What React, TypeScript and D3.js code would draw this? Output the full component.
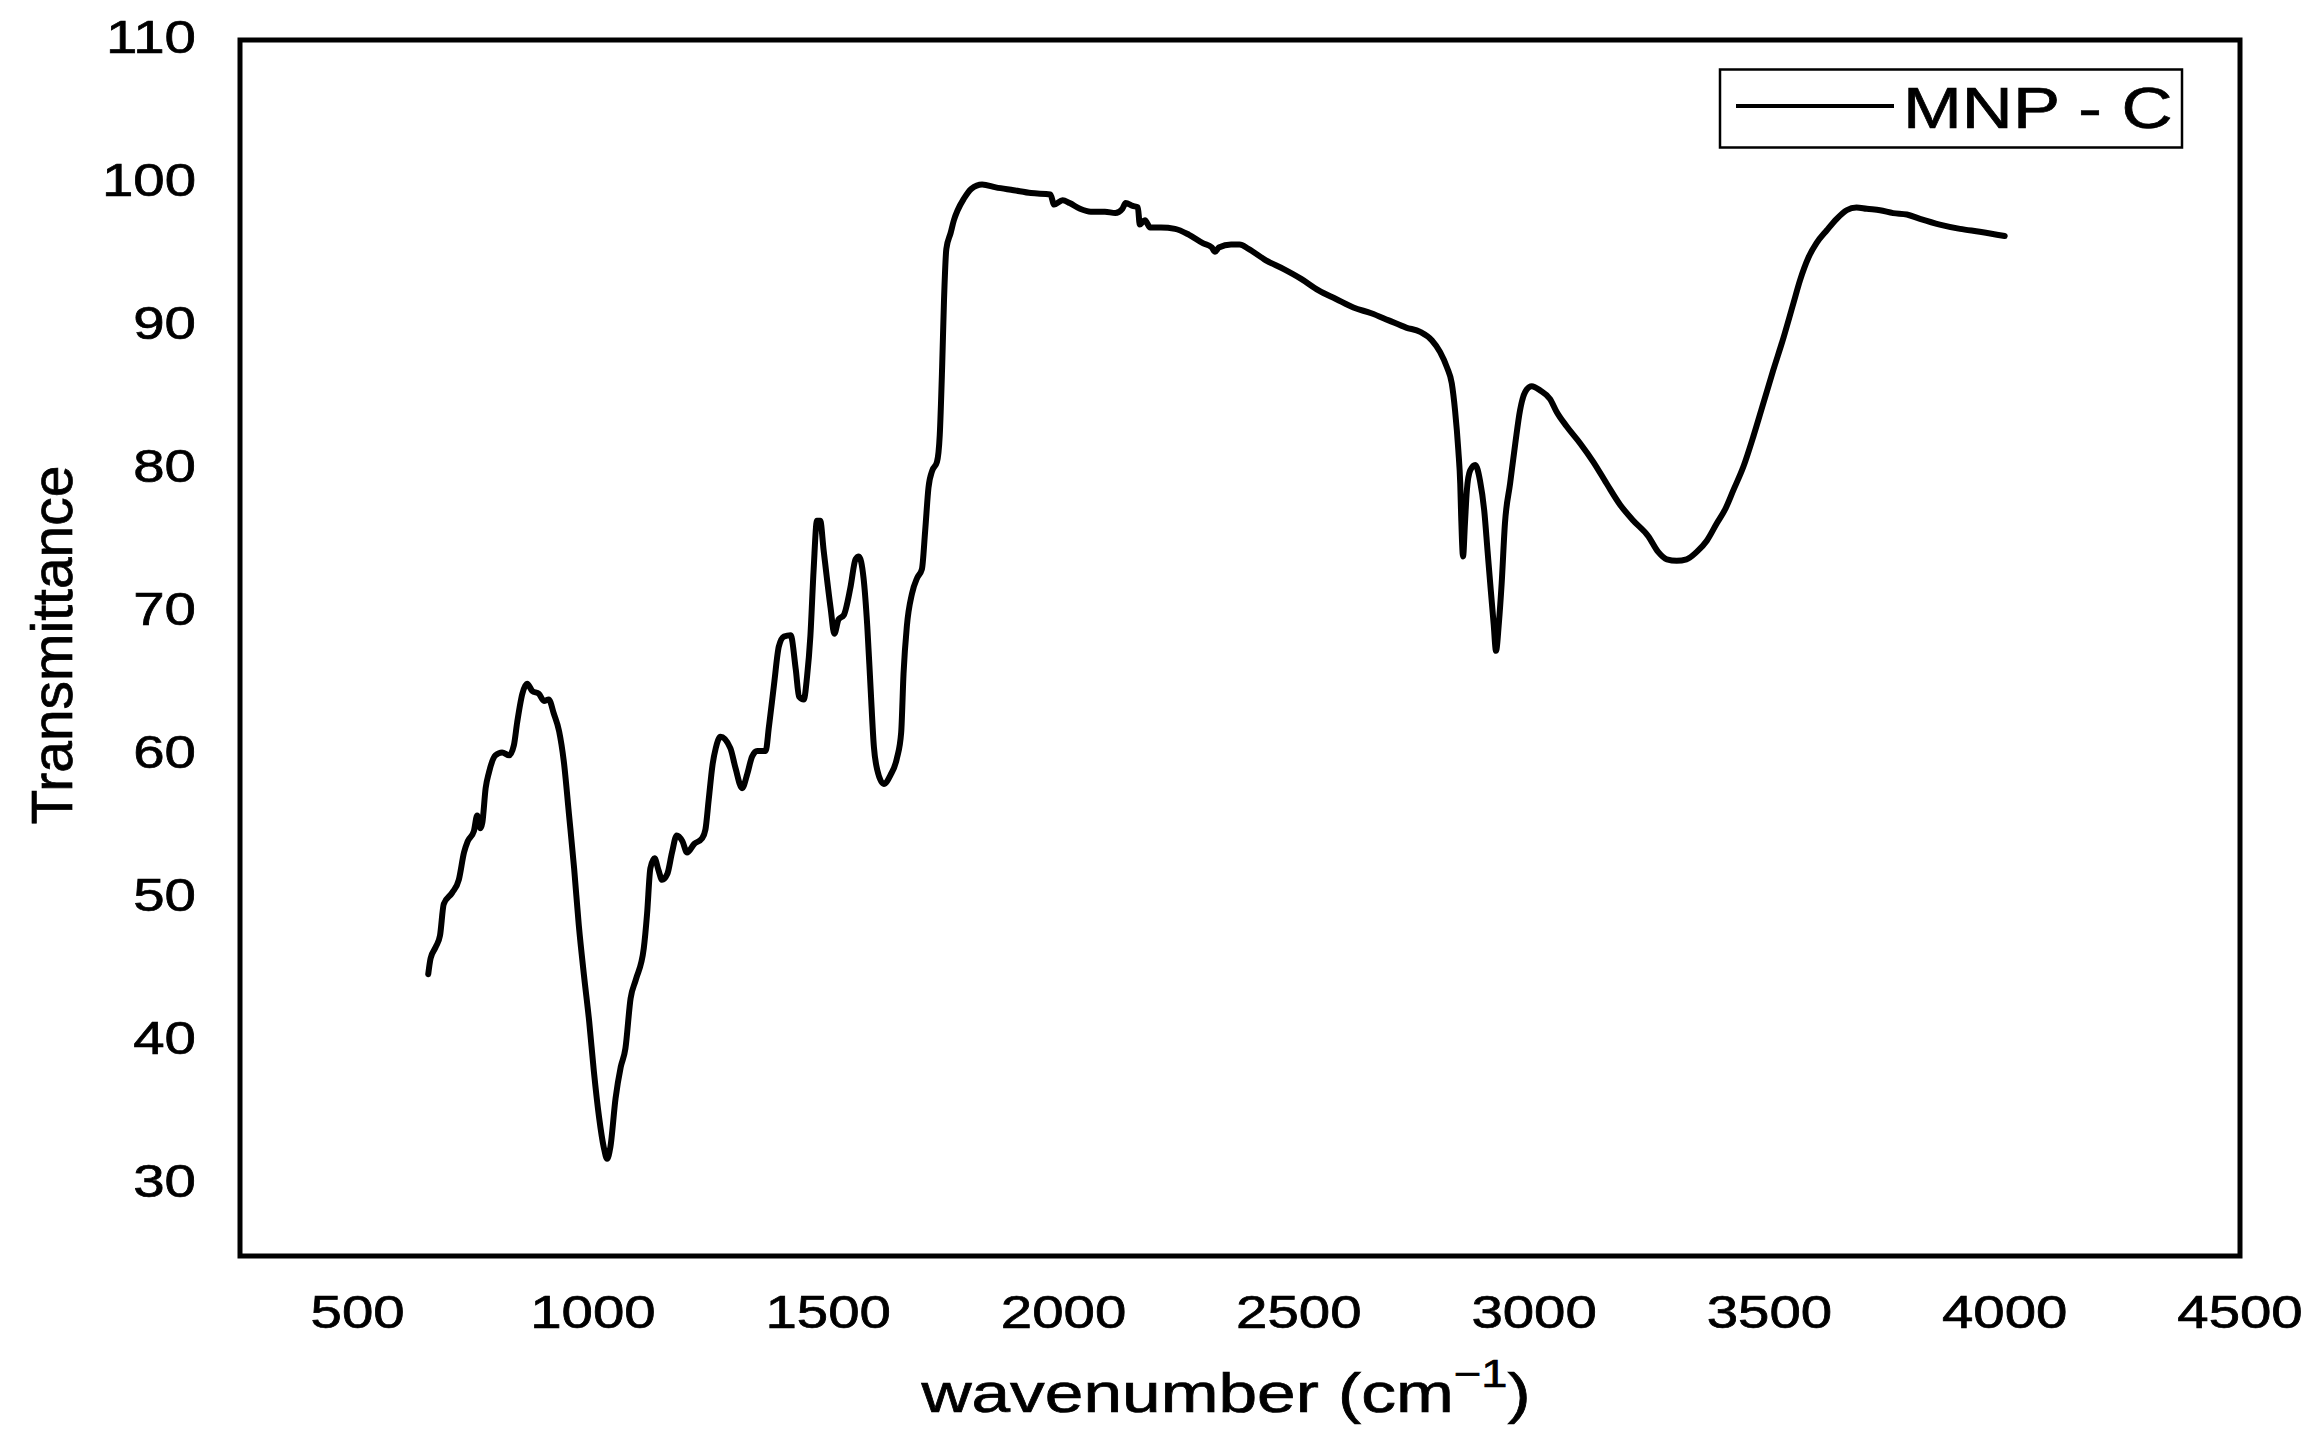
import React from "react";
import * as d3 from "d3";

const wavenumbers = [
  650, 655, 666, 675, 683, 701, 715, 726, 734, 747, 754, 761, 765, 772, 779, 793, 807, 822, 832, 839,
  850, 860, 871, 885, 896, 906, 917, 928, 938, 949, 960, 970, 981, 992, 1002, 1013, 1023, 1030, 1037, 1048,
  1059, 1069, 1080, 1091, 1108, 1115, 1122, 1131, 1139, 1147, 1158, 1168, 1178, 1190, 1200, 1215, 1232, 1239, 1246, 1254,
  1261, 1271, 1292, 1303, 1317, 1328, 1338, 1349, 1367, 1374, 1385, 1395, 1406, 1420, 1431, 1438, 1448, 1455, 1462, 1469,
  1476, 1483, 1490, 1505, 1513, 1522, 1533, 1547, 1558, 1565, 1575, 1583, 1590, 1597, 1604, 1618, 1632, 1646, 1655, 1660,
  1667, 1678, 1689, 1699, 1706, 1713, 1721, 1731, 1737, 1742, 1746, 1751, 1760, 1767, 1775, 1788, 1804, 1827, 1856, 1894,
  1931, 1972, 1980, 1998, 2013, 2035, 2058, 2088, 2110, 2125, 2132, 2147, 2158, 2162, 2173, 2184, 2207, 2237, 2266, 2296,
  2315, 2322, 2330, 2356, 2374, 2393, 2430, 2467, 2505, 2542, 2579, 2616, 2654, 2691, 2728, 2758, 2783, 2800, 2815, 2825,
  2832, 2839, 2843, 2845, 2849, 2853, 2857, 2864, 2875, 2885, 2894, 2901, 2908, 2914, 2919, 2925, 2931, 2938, 2949, 2960,
  2970, 2981, 2995, 3013, 3034, 3048, 3069, 3098, 3126, 3154, 3183, 3211, 3243, 3264, 3282, 3303, 3324, 3345, 3367, 3388,
  3406, 3423, 3445, 3466, 3487, 3508, 3530, 3551, 3565, 3583, 3600, 3622, 3643, 3664, 3685, 3707, 3735, 3763, 3792, 3820,
  3862, 3905, 3947, 4000,
];

const transmittance = [
  44.7, 45.8, 46.6, 47.4, 49.6, 50.4, 51.3, 53.2, 54.0, 54.7, 55.8, 54.9, 55.3, 57.7, 58.8, 60.0, 60.2, 60.0, 60.7, 62.3,
  64.3, 65.0, 64.5, 64.3, 63.8, 63.9, 62.9, 61.7, 59.6, 55.9, 52.1, 48.1, 44.6, 41.4, 37.9, 34.7, 32.6, 31.8, 32.6, 36.0,
  38.2, 39.5, 43.0, 44.3, 46.5, 48.9, 52.1, 52.8, 52.0, 51.3, 51.7, 53.2, 54.4, 54.0, 53.2, 53.8, 54.2, 54.8, 56.9, 59.3,
  60.5, 61.3, 60.5, 59.1, 57.7, 58.7, 59.9, 60.3, 60.3, 62.0, 65.0, 67.6, 68.3, 68.4, 66.0, 64.1, 63.9, 65.5, 68.3, 73.0,
  76.4, 76.4, 74.4, 70.3, 68.5, 69.5, 69.8, 71.7, 73.7, 73.9, 72.4, 69.0, 64.7, 60.6, 59.0, 58.0, 58.6, 59.8, 61.6, 65.7,
  69.0, 71.3, 72.4, 73.0, 75.7, 78.7, 79.9, 80.5, 82.4, 87.1, 91.8, 95.4, 96.5, 97.4, 98.1, 98.9, 99.6, 99.9, 99.7, 99.5,
  99.3, 99.2, 98.5, 98.8, 98.6, 98.2, 98.0, 98.0, 97.9, 98.2, 98.6, 98.4, 98.3, 97.1, 97.4, 96.9, 96.9, 96.8, 96.4, 95.8,
  95.5, 95.2, 95.5, 95.7, 95.7, 95.4, 94.6, 94.0, 93.3, 92.5, 91.9, 91.3, 90.9, 90.4, 89.9, 89.6, 89.0, 88.2, 87.1, 86.0,
  84.1, 81.3, 79.0, 76.7, 73.9, 76.2, 78.5, 79.9, 80.3, 79.2, 77.1, 74.3, 71.5, 69.2, 67.3, 69.2, 72.0, 76.2, 79.0, 81.8,
  84.1, 85.4, 85.8, 85.5, 84.9, 84.0, 83.0, 81.8, 80.5, 79.0, 77.5, 76.4, 75.3, 74.2, 73.7, 73.6, 73.7, 74.2, 75.0, 76.2,
  77.2, 78.5, 80.2, 82.3, 84.6, 86.9, 89.2, 91.6, 93.2, 94.8, 95.8, 96.7, 97.5, 98.1, 98.3, 98.2, 98.1, 97.9, 97.8, 97.5,
  97.1, 96.8, 96.6, 96.3,
];

const xTicks = [500, 1000, 1500, 2000, 2500, 3000, 3500, 4000, 4500];
const yTicks = [30, 40, 50, 60, 70, 80, 90, 100, 110];
const seriesName = "MNP - C";
const xTitle = "wavenumber (cm";
const xTitleSup = "\u22121";
const yTitle = "Transmittance";

const FONT = "'Liberation Sans', Arial, Helvetica, sans-serif";
const TEXT_STROKE = 0.7;

export default function App() {
  const W = 2311;
  const H = 1442;
  const x = d3.scaleLinear().domain([250, 4500]).range([240, 2240]);
  const y = d3.scaleLinear().domain([25, 110]).range([1256, 40]);

  const points = wavenumbers.map((w, i) => [w, transmittance[i]] as [number, number]);
  const line = d3
    .line<[number, number]>()
    .x((d) => x(d[0]))
    .y((d) => y(d[1]))
    .curve(d3.curveMonotoneX);
  const pathD = line(points) || "";

  const [x0, x1] = x.range();
  const [yb, yt] = y.range();

  const textProps = {
    fontFamily: FONT,
    fill: "#000",
    stroke: "#000",
    strokeWidth: TEXT_STROKE,
  };

  return (
    <div style={{ position: "absolute", left: 0, top: 0, width: W, height: H, background: "#fff" }}>
      <style>{"body{margin:0;}"}</style>
      <svg width={W} height={H} viewBox={`0 0 ${W} ${H}`} style={{ display: "block" }}>
        <rect x={0} y={0} width={W} height={H} fill="#fff" />
        {/* plot frame */}
        <rect x={x0} y={yt} width={x1 - x0} height={yb - yt} fill="none" stroke="#000" strokeWidth={5} />

        {/* y tick labels */}
        {yTicks.map((t) => (
          <text
            key={"y" + t}
            transform={`translate(196, ${y(t) + 13}) scale(1.2,1)`}
            textAnchor="end"
            fontSize={47}
            {...textProps}
          >
            {t}
          </text>
        ))}

        {/* x tick labels */}
        {xTicks.map((t) => (
          <text
            key={"x" + t}
            transform={`translate(${x(t)}, 1328) scale(1.2,1)`}
            textAnchor="middle"
            fontSize={47}
            {...textProps}
          >
            {t}
          </text>
        ))}

        {/* y axis title */}
        <text
          transform={`translate(72, 645) rotate(-90)`}
          textAnchor="middle"
          fontSize={57}
          {...textProps}
        >
          {yTitle}
        </text>

        {/* x axis title */}
        <text
          transform={`translate(1226, 1412) scale(1.24,1)`}
          textAnchor="middle"
          fontSize={56}
          {...textProps}
        >
          {xTitle}
          <tspan fontSize={38} dy={-25}>{xTitleSup}</tspan>
          <tspan dy={25}>)</tspan>
        </text>

        {/* data line */}
        <path d={pathD} fill="none" stroke="#000" strokeWidth={6} strokeLinejoin="round" strokeLinecap="round" />

        {/* legend */}
        <rect x={1720} y={69.5} width={462} height={78} fill="#fff" stroke="#000" strokeWidth={2.5} />
        <line x1={1736} x2={1894} y1={106} y2={106} stroke="#000" strokeWidth={4} />
        <text
          transform={`translate(1903, 128) scale(1.24,1)`}
          textAnchor="start"
          fontSize={57}
          {...textProps}
        >
          {seriesName}
        </text>
      </svg>
    </div>
  );
}
